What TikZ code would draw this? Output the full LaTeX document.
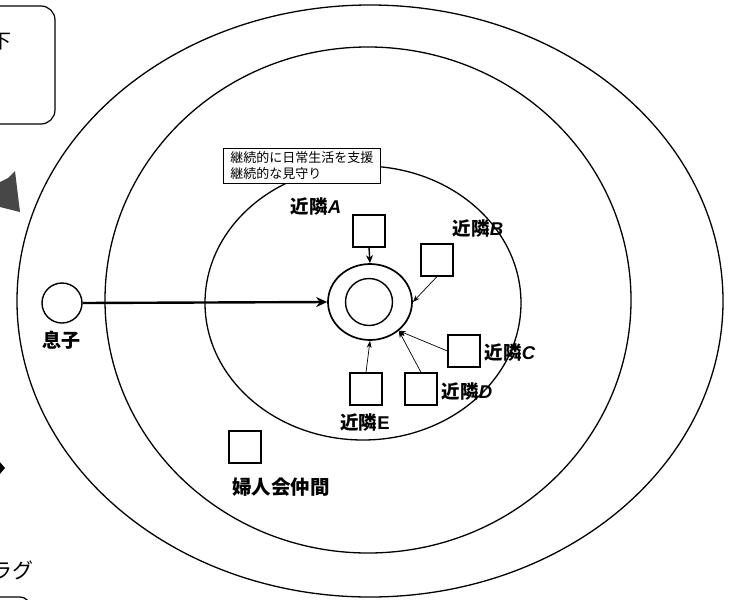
\documentclass[tikz,border=0pt]{standalone}
\usepackage{fontspec}
\newfontfamily\jp{Noto Sans CJK JP}
\newfontfamily\lat{Liberation Sans}
\usetikzlibrary{shapes.geometric,arrows.meta}
\tikzset{
  ell/.style={line width=1.3pt},
  nbox/.style={draw, line width=1.2pt, minimum size=32pt, inner sep=0pt},
  lbl/.style={font=\jp\bfseries\fontsize{18.5}{20}\selectfont, inner sep=0pt},
  thinarrow/.style={-{Stealth[length=7pt,width=5pt]}, line width=0.7pt},
  medarrow/.style={-{Stealth[length=8pt,width=7pt]}, line width=1.4pt},
  thickarrow/.style={-{Stealth[length=11pt,width=10pt]}, line width=2.4pt},
}
\newcommand{\latA}[1]{{\lat\bfseries\itshape #1}}
\newcommand{\latU}[1]{{\lat\bfseries #1}}
\begin{document}
\begin{tikzpicture}[x=1pt,y=-1pt]
\useasboundingbox (0,0) rectangle (734,600);
\clip (0,0) rectangle (734,600);
\fill[white] (0,0) rectangle (734,600);

% concentric ellipses
\draw[ell] (370,301) ellipse [x radius=353, y radius=296];
\draw[ell] (368,300) ellipse [x radius=263, y radius=253];
\draw[ell] (363,303) ellipse [x radius=158, y radius=137];

% partial elements on the left edge (cut by the picture's edge, as in the reference)
\draw[line width=1.2pt, rounded corners=14pt] (-200,6) rectangle (55,124);
\node[font=\jp\fontsize{20}{22}\selectfont, inner sep=0pt] (shita) at (1,42) {下};
\fill[black!72] (0,182) -- (8,178) -- (15,171) -- (20,212) -- (0,207) -- cycle;
\fill[black] (-7,468) -- (-1,461) -- (5,468) -- (-1,475) -- cycle;
\node[font=\jp\fontsize{21}{23}\selectfont, inner sep=0pt, anchor=east] (rag) at (34,570) {ラグ};
\draw[line width=1.2pt, rounded corners=10pt] (-100,597) rectangle (30,700);

% note box
\node[draw, line width=0.6pt, fill=white, align=left, anchor=north west,
      font=\jp\fontsize{13}{16.5}\selectfont, inner xsep=7pt, inner ysep=3pt] (note)
      at (223,148) {継続的に日常生活を支援\\継続的な見守り};

% centre ring
\node[draw, ellipse, line width=1.7pt, minimum width=84pt, minimum height=76pt, inner sep=0pt] (ring) at (370,302) {};
\node[draw, circle, line width=1.4pt, minimum size=47pt, inner sep=0pt] (core) at (369,302) {};

% son
\node[draw, circle, line width=1.4pt, minimum size=40pt, inner sep=0pt] (son) at (62,303) {};
\node[lbl, font=\jp\bfseries\fontsize{19}{21}\selectfont] (sonl) at (61,340) {息子};

% neighbours
\node[nbox] (A) at (369,231) {};
\node[nbox] (B) at (437,260) {};
\node[nbox] (C) at (464,351) {};
\node[nbox] (D) at (421,389) {};
\node[nbox] (E) at (366,389) {};
\node[nbox] (F) at (245,447) {};

\node[lbl] (labA) at (316,207) {近隣\latA{A}};
\node[lbl] (labB) at (478,229) {近隣\latA{B}};
\node[lbl] (labC) at (510,353) {近隣\latA{C}};
\node[lbl] (labD) at (467,392) {近隣\latA{D}};
\node[lbl] (labE) at (365,423) {近隣\latU{E}};
\node[lbl, font=\jp\bfseries\fontsize{19.5}{21}\selectfont] (labF) at (281,487) {婦人会仲間};

% connectors
\draw[thickarrow] (son.east) -- (ring.west);
\draw[medarrow] (A.south) -- (ring.north);
\draw[thinarrow] (B.south) -- (ring.east);
\draw[thinarrow] (C.west) -- (ring.-45);
\draw[thinarrow] (D.north) -- (ring.-45);
\draw[thinarrow] (E.north) -- (ring.south);
\end{tikzpicture}
\end{document}
